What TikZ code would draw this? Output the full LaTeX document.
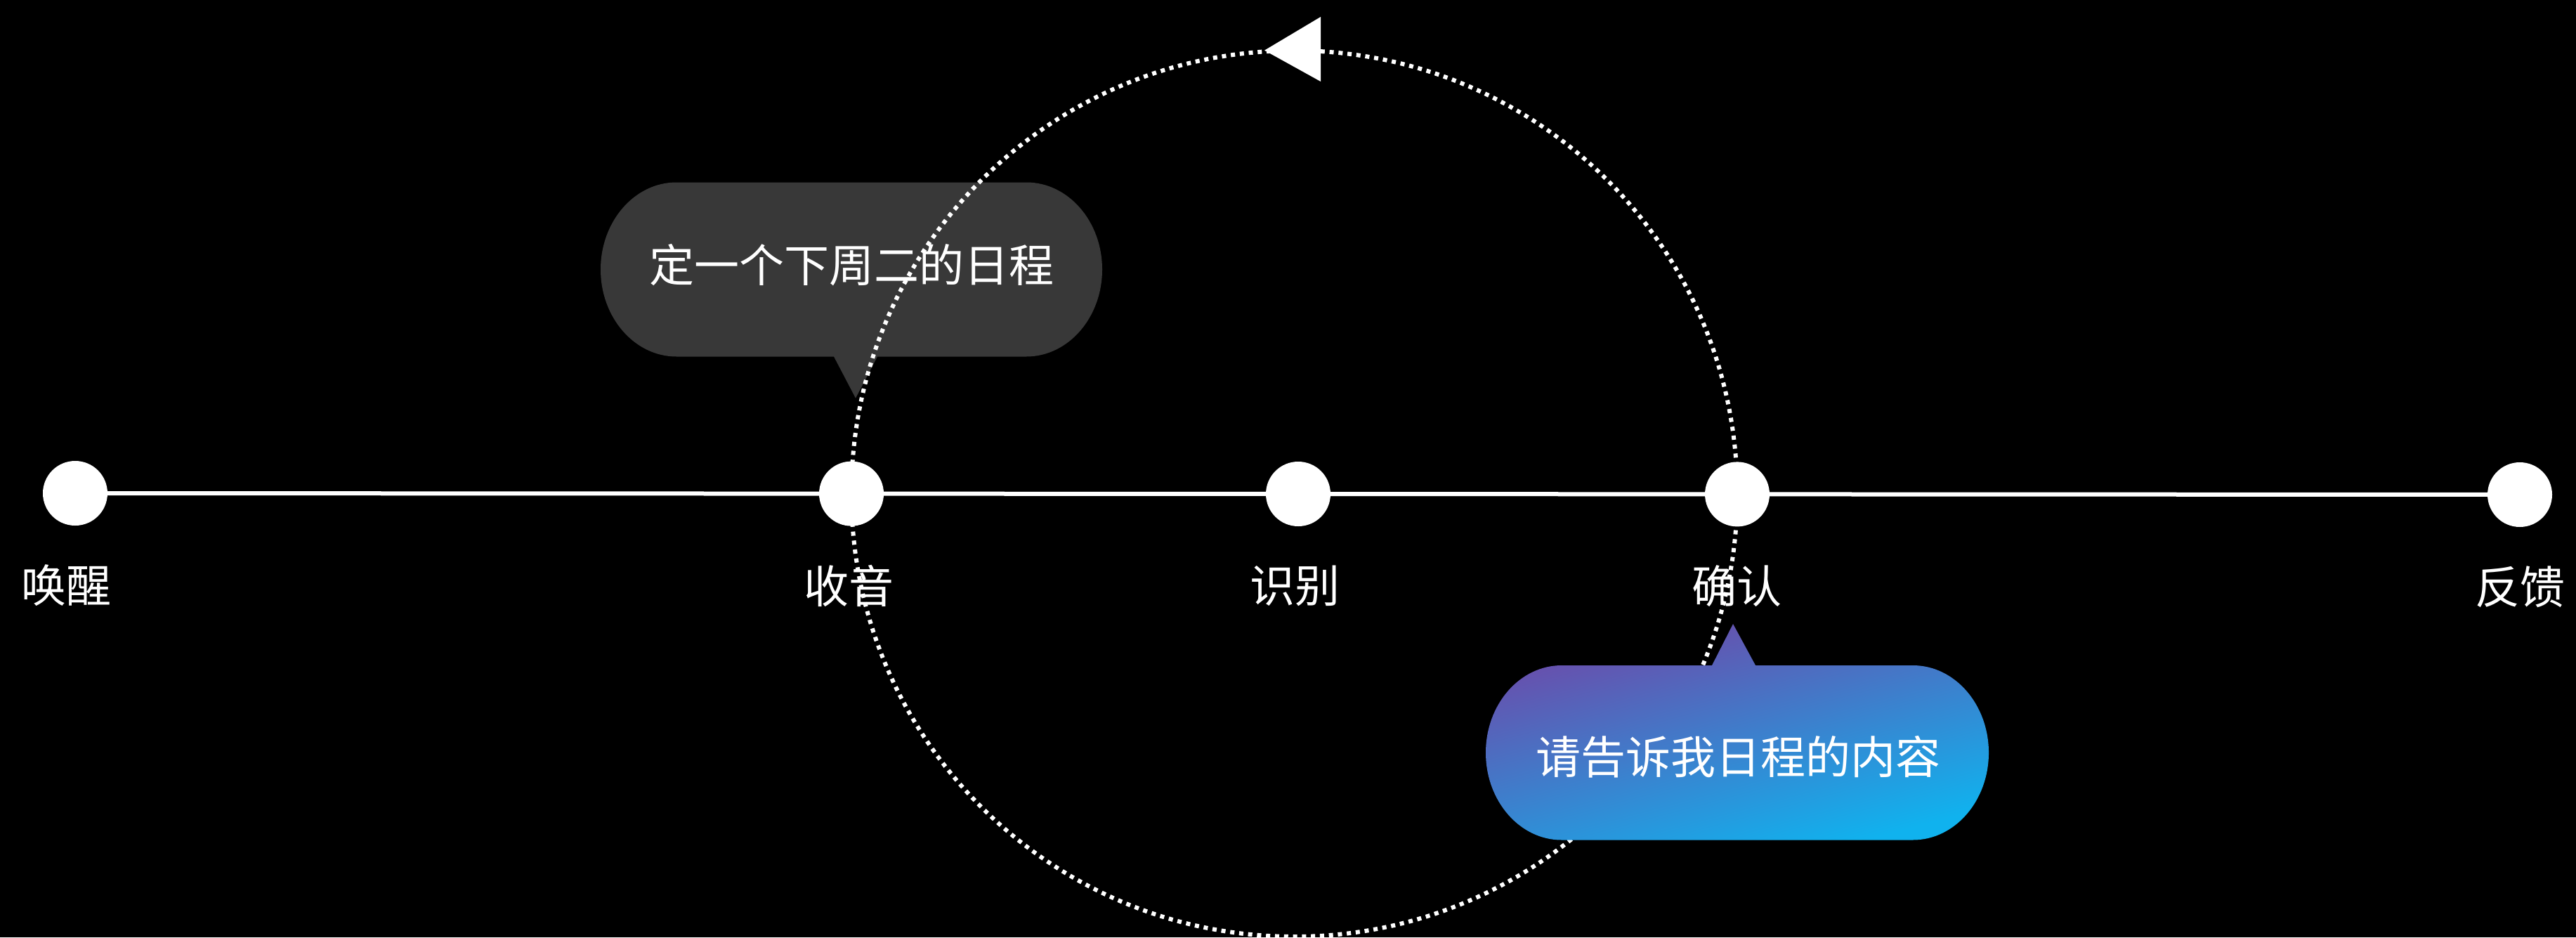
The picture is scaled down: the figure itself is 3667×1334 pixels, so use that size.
\documentclass[tikz,border=0pt]{standalone}
\usepackage{fontspec}
\newfontfamily\cjk{Noto Sans CJK SC}
\definecolor{bubblegray}{RGB}{56,56,56}
\definecolor{gtop}{RGB}{110,72,168}
\definecolor{gbot}{RGB}{16,178,238}
\begin{document}
\begin{tikzpicture}[x=1pt,y=1pt,
  dotnode/.style={circle,fill=white,minimum size=92pt,inner sep=0pt},
  lbl/.style={text=white,font=\cjk\fontsize{64}{64}\selectfont,inner sep=0pt},
  timeline/.style={white,line width=6pt},
  loopline/.style={white,line width=6pt,dash pattern=on 6pt off 6.8pt}]
\fill[black] (0,0) rectangle (3667,-1334);
\useasboundingbox (0,0) rectangle (3667,-1334);
% dark speech bubble
\fill[bubblegray] (963,-259.5) -- (1461,-259.5)
  arc[start angle=90,end angle=-90,x radius=108,y radius=124]
  -- (1249,-507.5) -- (1218,-566.7) -- (1187,-507.5) -- (963,-507.5)
  arc[start angle=270,end angle=90,x radius=108,y radius=124] -- cycle;
\node[lbl] (q) at (1212,-377) {定一个下周二的日程};
% dotted loop
\draw[loopline] (1842.5,-702.5) circle[radius=630.5];
\fill[white] (1800,-71.7) -- (1880,-24) -- (1880,-116) -- cycle;
% timeline nodes
\node[dotnode] (n1) at (107,-702) {};
\node[dotnode] (n2) at (1212,-702.6) {};
\node[dotnode] (n3) at (1848,-703) {};
\node[dotnode] (n4) at (2473,-703.4) {};
\node[dotnode] (n5) at (3587,-704) {};
\draw[timeline] (n1) -- (n2);
\draw[timeline] (n2) -- (n3);
\draw[timeline] (n3) -- (n4);
\draw[timeline] (n4) -- (n5);
\node[lbl] (l1) at (94.5,-833) {唤醒};
\node[lbl] (l2) at (1208,-834) {收音};
\node[lbl] (l3) at (1843,-834) {识别};
\node[lbl] (l4) at (2472,-834) {确认};
\node[lbl] (l5) at (3587,-835) {反馈};
% gradient speech bubble
\shade[top color=gtop,bottom color=gbot,shading angle=15]
  (2223,-947) -- (2437,-947) -- (2467,-888) -- (2499,-947) -- (2723,-947)
  arc[start angle=90,end angle=-90,x radius=108,y radius=124.25]
  -- (2223,-1195.5)
  arc[start angle=270,end angle=90,x radius=108,y radius=124.25] -- cycle;
\node[lbl] (a) at (2474,-1077) {请告诉我日程的内容};
\end{tikzpicture}
\end{document}
